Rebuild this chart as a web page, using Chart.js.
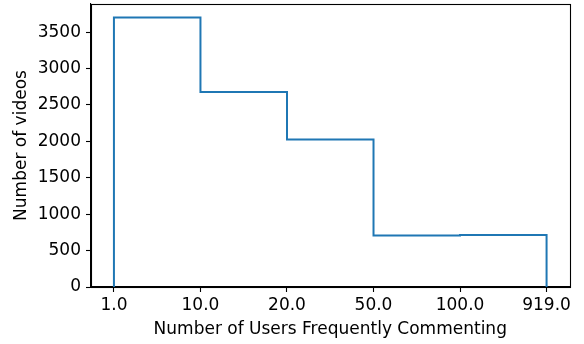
<!DOCTYPE html>
<html>
<head>
<meta charset="utf-8">
<script src="https://cdn.jsdelivr.net/npm/chart.js@4/dist/chart.umd.min.js"></script>
<style>
html,body{margin:0;padding:0;background:#fff;}
#wrap{width:584px;height:344px;position:relative;}
</style>
</head>
<body>
<div id="wrap"><canvas id="c" width="584" height="344"></canvas></div>
<script>
// Bin edge labels (x ticks), shown at equal spacing
const edgeLabels = ['1.0', '10.0', '20.0', '50.0', '100.0', '919.0'];
// Counts for each bin between consecutive edges
const binCounts = [3702, 2680, 2026, 706, 715];
const yTicks = [0, 500, 1000, 1500, 2000, 2500, 3000, 3500];

// Build step outline (matplotlib histtype='step') from the arrays
const pts = [];
pts.push({x: 0, y: 0});
binCounts.forEach((c, i) => {
  pts.push({x: i, y: c});
  pts.push({x: i + 1, y: c});
});
pts.push({x: binCounts.length, y: 0});

const FONT = 'DejaVu Sans';
const FS = 17;

const frame = {
  id: 'frame',
  afterDraw(chart) {
    const a = chart.chartArea, ctx = chart.ctx;
    ctx.save();
    ctx.strokeStyle = '#000';
    ctx.lineWidth = 1.1;
    ctx.strokeRect(Math.round(a.left) + 0.5, Math.round(a.top) + 0.5, Math.round(a.right - a.left), Math.round(a.bottom - a.top));
    ctx.restore();
  }
};

const yMax = Math.max(...binCounts) * 1.05;

new Chart(document.getElementById('c'), {
  type: 'line',
  data: {
    datasets: [{
      data: pts,
      borderColor: '#1f77b4',
      borderWidth: 2,
      pointRadius: 0,
      fill: false,
      tension: 0
    }]
  },
  options: {
    responsive: false,
    animation: false,
    devicePixelRatio: 1,
    layout: {padding: {left: 0, right: 14.5, top: 4, bottom: 0}},
    plugins: {legend: {display: false}, tooltip: {enabled: false}},
    scales: {
      x: {
        type: 'linear',
        min: -0.265,
        max: edgeLabels.length - 1 + 0.265,
        afterBuildTicks(scale) {
          scale.ticks = edgeLabels.map((l, i) => ({value: i}));
        },
        ticks: {
          autoSkip: false,
          maxRotation: 0,
          color: '#000',
          font: {family: FONT, size: FS},
          padding: 3,
          callback: (v) => edgeLabels[v]
        },
        grid: {drawOnChartArea: false, drawTicks: true, tickLength: 5, color: '#000', tickWidth: 1.1},
        border: {display: true, color: '#000', width: 1.1},
        title: {
          display: true,
          text: 'Number of Users Frequently Commenting',
          color: '#000',
          font: {family: FONT, size: FS},
          padding: {top: 0, bottom: 4}
        },
        afterFit(scale) { scale.height = 57; scale.paddingLeft = 0; scale.paddingRight = 0; }
      },
      y: {
        type: 'linear',
        min: 0,
        max: yMax,
        afterBuildTicks(scale) {
          scale.ticks = yTicks.map(v => ({value: v}));
        },
        ticks: {
          color: '#000',
          font: {family: FONT, size: FS},
          padding: 5,
          callback: (v) => String(v)
        },
        grid: {drawOnChartArea: false, drawTicks: true, tickLength: 5, color: '#000', tickWidth: 1.1},
        border: {display: true, color: '#000', width: 1.1},
        title: {
          display: true,
          text: 'Number of videos',
          color: '#000',
          font: {family: FONT, size: FS},
          padding: {top: 11, bottom: 0}
        },
        afterFit(scale) { scale.width = 91; scale.paddingTop = 0; scale.paddingBottom = 0; }
      }
    }
  },
  plugins: [frame]
});
</script>
</body>
</html>
